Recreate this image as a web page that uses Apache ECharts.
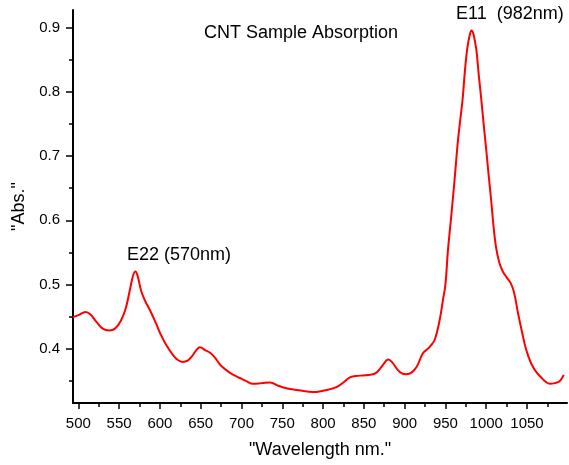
<!DOCTYPE html>
<html>
<head>
<meta charset="utf-8">
<script src="https://cdn.jsdelivr.net/npm/echarts@6/dist/echarts.min.js"></script>
<style>html,body{margin:0;padding:0;background:#fff}#c{width:569px;height:465px}</style>
</head>
<body>
<div id="c"></div>
<script>
const wavelength = [493.5,500,509,515,522,530,538,545,552,558,563,567,570,573,577,582,587,595,601,608,616,622,628,634,640,645,649,655,662,668,675,686,698,706,714,725,735,745,755,770,788,800,810,817,825,833,840,849,858,865,872,880,885,892,897,902,908,915,922,927,931,937,943,947,950,953,956,959,962,965,968,971,974,977,980,982,984,986,988,991,994,997,1000,1003,1006,1009,1012,1016,1020,1025,1030,1034,1039,1044,1049,1055,1061,1068,1074,1078,1084,1090,1095];
const absorbance = [0.449,0.452,0.457,0.453,0.442,0.431,0.428,0.431,0.443,0.462,0.490,0.513,0.520,0.512,0.490,0.474,0.462,0.440,0.422,0.405,0.390,0.382,0.379,0.381,0.389,0.398,0.402,0.398,0.393,0.385,0.373,0.362,0.354,0.349,0.345,0.346,0.347,0.342,0.338,0.335,0.332,0.334,0.337,0.340,0.347,0.355,0.357,0.358,0.359,0.362,0.372,0.383,0.378,0.366,0.361,0.360,0.362,0.372,0.392,0.398,0.403,0.414,0.445,0.476,0.500,0.552,0.592,0.632,0.675,0.720,0.755,0.788,0.835,0.870,0.890,0.896,0.892,0.880,0.865,0.825,0.788,0.748,0.710,0.670,0.632,0.590,0.558,0.534,0.521,0.511,0.502,0.488,0.455,0.425,0.398,0.377,0.364,0.354,0.347,0.345,0.346,0.349,0.359];
const xMajorTicks = [500,550,600,650,700,750,800,850,900,950,1000,1050];
const xMinorTicks = [525,575,625,675,725,775,825,875,925,975,1025,1075];
const yMajorTicks = [0.4,0.5,0.6,0.7,0.8,0.9];
const yMinorTicks = [0.35,0.45,0.55,0.65,0.75,0.85];
const chartTitle = 'CNT Sample Absorption';
const xTitle = '"Wavelength nm."';
const yTitle = '"Abs."';
const peakE11 = 'E11  (982nm)';
const peakE22 = 'E22 (570nm)';

const FONT = '"Liberation Sans", Arial, sans-serif';
const X_MIN = 493.5, X_MAX = 1099, Y_MIN = 0.315, Y_MAX = 0.928;
const lineStyle = {color:'#000', width:2};

const chart = echarts.init(document.getElementById('c'), null, {renderer:'canvas'});
chart.setOption({
  animation:false,
  backgroundColor:'#fff',
  grid:{left:73, right:2, top:10, bottom:62},
  xAxis:[{
    type:'value', min:X_MIN, max:X_MAX, position:'bottom',
    axisLine:{show:true, onZero:false, lineStyle:lineStyle},
    axisTick:{show:true, length:6, inside:false, customValues:xMajorTicks, lineStyle:{color:'#000', width:1.5}},
    axisLabel:{show:true, customValues:xMajorTicks, margin:13, fontSize:15, fontFamily:FONT, color:'#000',
      formatter:v=>String(Math.round(v))},
    splitLine:{show:false},
    name:xTitle, nameLocation:'middle', nameGap:38,
    nameTextStyle:{fontSize:18, fontFamily:FONT, color:'#000'}
  },{
    type:'value', min:X_MIN, max:X_MAX, position:'bottom',
    axisLine:{show:false, onZero:false},
    axisTick:{show:true, length:4, inside:false, customValues:xMinorTicks, lineStyle:{color:'#000', width:1.5}},
    axisLabel:{show:false},
    splitLine:{show:false}
  }],
  yAxis:[{
    type:'value', min:Y_MIN, max:Y_MAX, position:'left',
    axisLine:{show:true, onZero:false, lineStyle:lineStyle},
    axisTick:{show:true, length:7, inside:false, customValues:yMajorTicks, lineStyle:{color:'#000', width:1.5}},
    axisLabel:{show:true, customValues:yMajorTicks, margin:13, fontSize:15, fontFamily:FONT, color:'#000',
      formatter:v=>Number(v).toFixed(1)},
    splitLine:{show:false},
    name:yTitle, nameLocation:'middle', nameGap:36,
    nameTextStyle:{fontSize:18, fontFamily:FONT, color:'#000'}
  },{
    type:'value', min:Y_MIN, max:Y_MAX, position:'left',
    axisLine:{show:false, onZero:false},
    axisTick:{show:true, length:4, inside:false, customValues:yMinorTicks, lineStyle:{color:'#000', width:1.5}},
    axisLabel:{show:false},
    splitLine:{show:false}
  }],
  graphic:[
    {type:'text', x:301, y:33, style:{text:chartTitle, font:'18px '+FONT, fill:'#000', textAlign:'center', textVerticalAlign:'middle'}},
    {type:'text', x:456, y:14, style:{text:peakE11, font:'18px '+FONT, fill:'#000', textAlign:'left', textVerticalAlign:'middle'}},
    {type:'text', x:127, y:255, style:{text:peakE22, font:'18px '+FONT, fill:'#000', textAlign:'left', textVerticalAlign:'middle'}}
  ],
  series:[{
    type:'line', xAxisIndex:0, yAxisIndex:0,
    data:wavelength.map((w,i)=>[w, absorbance[i]]),
    showSymbol:false, smooth:0.4,
    lineStyle:{color:'#ff0000', width:2},
    clip:true
  }]
});
</script>
</body>
</html>
